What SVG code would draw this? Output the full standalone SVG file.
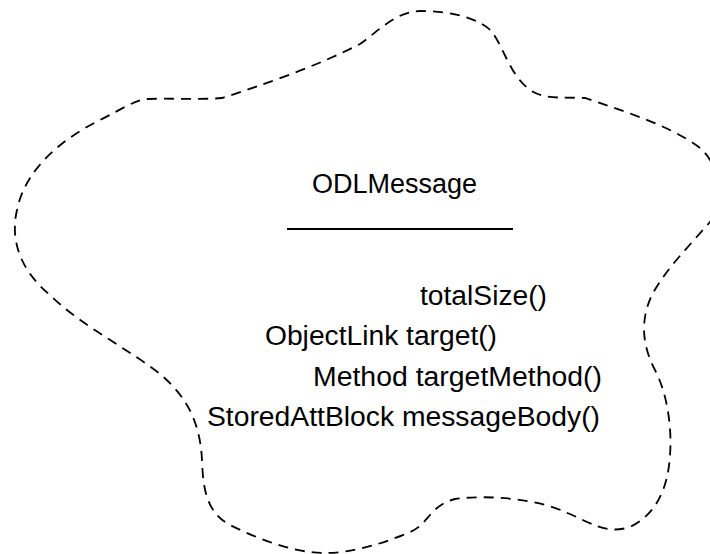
<svg xmlns="http://www.w3.org/2000/svg" width="710" height="554" viewBox="0 0 710 554">
<style>
.cloud{fill:none;stroke:#000;stroke-width:1.8;stroke-dasharray:10 7}
.t{font-family:"Liberation Sans",Arial,sans-serif;font-size:27px;fill:#000}
</style>
<rect width="710" height="554" fill="#fff"/>
<g id="ODLMessage">
<path class="cloud" d="M147,99 C170,98 200,100 222,98 C260,86 320,65 360,44 C380,30 395,12 420,11 C450,11 480,18 492,32 C505,50 510,75 530,90 C545,100 565,97 585,98 C620,110 670,125 700,148 C720,165 725,200 710,222 C690,245 665,270 652,295 C640,320 642,345 655,370 C668,395 672,430 670,455 C668,490 655,515 630,527 C605,535 590,522 565,512 C540,500 490,494 455,499 C430,505 428,525 410,532 C380,545 350,553 325,553 C295,553 260,540 230,525 C205,512 203,485 202,460 C200,420 185,395 160,374 C130,350 80,325 50,295 C20,270 10,240 17,210 C25,170 60,140 100,120 C120,110 135,100 147,99 Z"/>
<text class="t" x="312" y="193" textLength="165" lengthAdjust="spacingAndGlyphs">ODLMessage</text>
<line x1="287" y1="229" x2="513" y2="229" stroke="#000" stroke-width="2"/>
<text class="t" x="420" y="305" textLength="127" lengthAdjust="spacingAndGlyphs">totalSize()</text>
<text class="t" x="265" y="345" textLength="232" lengthAdjust="spacingAndGlyphs">ObjectLink target()</text>
<text class="t" x="313" y="386" textLength="289" lengthAdjust="spacingAndGlyphs">Method targetMethod()</text>
<text class="t" x="207" y="426" textLength="393" lengthAdjust="spacingAndGlyphs">StoredAttBlock messageBody()</text>
</g>
<g id="connectors"/>
</svg>
